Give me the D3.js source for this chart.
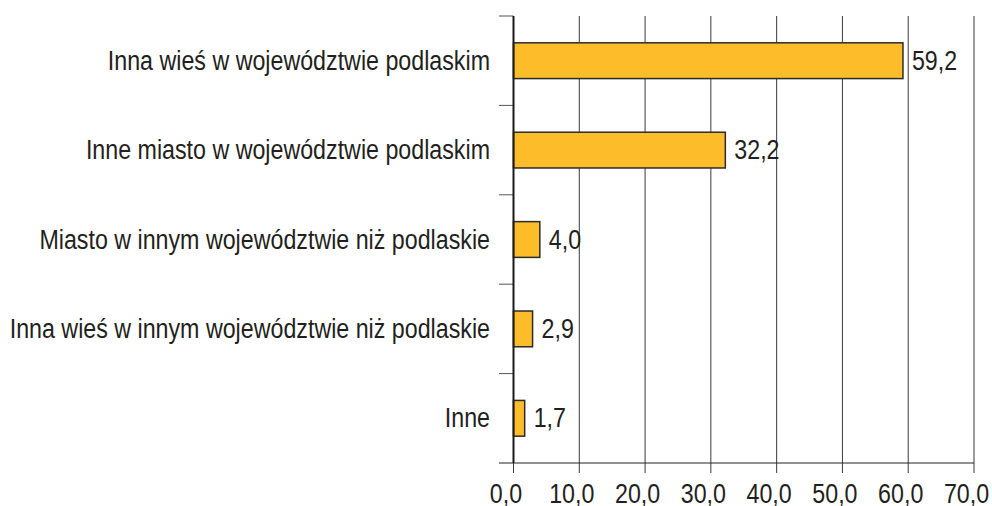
<!DOCTYPE html>
<html><head><meta charset="utf-8">
<script src="https://cdn.jsdelivr.net/npm/d3@7"></script>
<style>
html,body{margin:0;padding:0;background:#fff;}
text{font-family:"Liberation Sans",Arial,Helvetica,sans-serif;fill:#231f20;}
</style></head>
<body>
<svg id="chart" width="992" height="506"></svg>
<script>
const categories = [
  "Inna wieś w województwie podlaskim",
  "Inne miasto w województwie podlaskim",
  "Miasto w innym województwie niż podlaskie",
  "Inna wieś w innym województwie niż podlaskie",
  "Inne"
];
const values = [59.2, 32.2, 4.0, 2.9, 1.7];
const valueLabels = ["59,2", "32,2", "4,0", "2,9", "1,7"];
const tickValues = [0, 10, 20, 30, 40, 50, 60, 70];
const tickLabels = ["0,0", "10,0", "20,0", "30,0", "40,0", "50,0", "60,0", "70,0"];

(function () {
const svg = d3.select("#chart");
const x = d3.scaleLinear().domain([0, 70]).range([513.5, 974]);
const y = d3.scaleBand().domain(categories).range([16, 463]).paddingInner(0.6).paddingOuter(0.3);
const plotTop = 16, plotBottom = 463;
const SX = 0.83; // condensed font look
const place = (px, py) => `translate(${px},${py}) scale(${SX},1)`;

// gridlines + bottom ticks
svg.append("g").selectAll("line").data(tickValues.filter(d => d > 0)).join("line")
  .attr("x1", d => x(d)).attr("x2", d => x(d))
  .attr("y1", plotTop).attr("y2", plotBottom + 10)
  .attr("stroke", "#3a3a3a").attr("stroke-width", 1);
svg.append("line").attr("x1", x(0)).attr("x2", x(0)).attr("y1", plotBottom).attr("y2", plotBottom + 10)
  .attr("stroke", "#3a3a3a").attr("stroke-width", 1);

// bottom axis line
svg.append("line").attr("x1", 499).attr("x2", x(70)).attr("y1", plotBottom).attr("y2", plotBottom)
  .attr("stroke", "#222").attr("stroke-width", 1);

// y-axis category boundary ticks
const bounds = d3.range(categories.length).map(i => plotTop + i * (plotBottom - plotTop) / categories.length);
svg.append("g").selectAll("line").data(bounds).join("line")
  .attr("x1", 499).attr("x2", x(0)).attr("y1", d => d).attr("y2", d => d)
  .attr("stroke", "#555").attr("stroke-width", 1);

// bars
svg.append("g").selectAll("rect").data(values).join("rect")
  .attr("x", x(0)).attr("y", (d, i) => y(categories[i]))
  .attr("width", d => x(d) - x(0)).attr("height", y.bandwidth())
  .attr("fill", "#fdbd2b").attr("stroke", "#2b2b2b").attr("stroke-width", 1.5);

// y axis line
svg.append("line").attr("x1", x(0)).attr("x2", x(0)).attr("y1", plotTop).attr("y2", plotBottom)
  .attr("stroke", "#1a1a1a").attr("stroke-width", 2);

// value labels
svg.append("g").selectAll("text").data(values).join("text")
  .attr("transform", (d, i) => place(x(d) + 9, y(categories[i]) + y.bandwidth() / 2 + 9))
  .attr("font-size", 28).text((d, i) => valueLabels[i]);

// category labels
svg.append("g").selectAll("text").data(categories).join("text")
  .attr("transform", d => place(490, y(d) + y.bandwidth() / 2 + 9))
  .attr("text-anchor", "end").attr("font-size", 28).text(d => d);

// tick labels
svg.append("g").selectAll("text").data(tickValues).join("text")
  .attr("transform", d => place(x(d) - 7.5, 503))
  .attr("text-anchor", "middle").attr("font-size", 28).text((d, i) => tickLabels[i]);
})();
</script>
</body></html>
